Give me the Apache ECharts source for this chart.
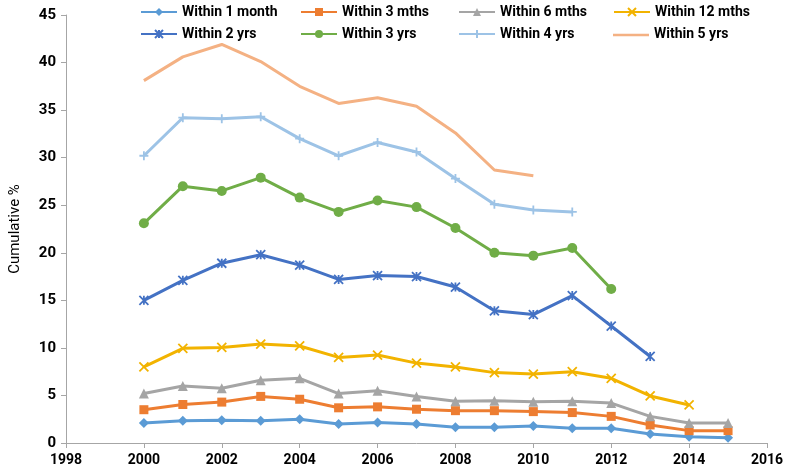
<!DOCTYPE html>
<html>
<head>
<meta charset="utf-8">
<script src="https://cdn.jsdelivr.net/npm/echarts@6/dist/echarts.min.js"></script>
<style>
  html, body { margin: 0; padding: 0; background: #fff; }
  #chart { width: 787px; height: 473px; }
</style>
</head>
<body>
<div id="chart"></div>
<script>
const years = [2000, 2001, 2002, 2003, 2004, 2005, 2006, 2007, 2008, 2009, 2010, 2011, 2012, 2013, 2014, 2015];
const xTicks = [1998, 2000, 2002, 2004, 2006, 2008, 2010, 2012, 2014, 2016];
const yTicks = [0, 5, 10, 15, 20, 25, 30, 35, 40, 45];

const within1Month = [2.1, 2.35, 2.4, 2.35, 2.5, 2.0, 2.15, 2.0, 1.65, 1.65, 1.8, 1.55, 1.55, 0.95, 0.65, 0.55];
const within3Mths = [3.5, 4.05, 4.3, 4.9, 4.6, 3.7, 3.8, 3.55, 3.4, 3.4, 3.3, 3.2, 2.8, 1.9, 1.3, 1.3];
const within6Mths = [5.2, 6.0, 5.75, 6.6, 6.8, 5.2, 5.5, 4.9, 4.4, 4.45, 4.35, 4.4, 4.2, 2.8, 2.1, 2.1];
const within12Mths = [8.0, 9.95, 10.05, 10.4, 10.2, 9.0, 9.25, 8.4, 8.0, 7.4, 7.25, 7.5, 6.8, 4.95, 4.0];
const within2Yrs = [15.0, 17.1, 18.9, 19.8, 18.7, 17.2, 17.6, 17.5, 16.4, 13.9, 13.5, 15.5, 12.3, 9.1];
const within3Yrs = [23.1, 27.0, 26.5, 27.9, 25.8, 24.3, 25.5, 24.8, 22.6, 20.0, 19.7, 20.5, 16.2];
const within4Yrs = [30.2, 34.2, 34.1, 34.3, 32.0, 30.2, 31.6, 30.6, 27.8, 25.1, 24.5, 24.3];
const within5Yrs = [38.1, 40.6, 41.9, 40.1, 37.5, 35.7, 36.3, 35.4, 32.6, 28.7, 28.1];

// open paths: drawn only by their stroke
const xMark = 'path://M0,0L10,10M10,0L0,10';
const starMark = 'path://M0,0L10,10M10,0L0,10M5,0L5,10';
const plusMark = 'path://M5,0L5,10M0,5L10,5';
const dashMark = 'path://M0,5L10,5';

const seriesDefs = [
  { name: 'Within 1 month', data: within1Month, color: '#5B9BD5', symbol: 'diamond', size: 10 },
  { name: 'Within 3 mths', data: within3Mths, color: '#ED7D31', symbol: 'rect', size: 9 },
  { name: 'Within 6 mths', data: within6Mths, color: '#A5A5A5', symbol: 'triangle', size: 10 },
  { name: 'Within 12 mths', data: within12Mths, color: '#F2B300', symbol: xMark, size: 9, stroke: true },
  { name: 'Within 2 yrs', data: within2Yrs, color: '#4472C4', symbol: starMark, size: 9, stroke: true },
  { name: 'Within 3 yrs', data: within3Yrs, color: '#70AD47', symbol: 'circle', size: 10 },
  { name: 'Within 4 yrs', data: within4Yrs, color: '#9DC3E6', symbol: plusMark, size: 9, stroke: true },
  { name: 'Within 5 yrs', data: within5Yrs, color: '#F4B183', symbol: dashMark, size: 6, stroke: true }
];

const legendLeft = [135, 295, 453, 608];
const legendTop = [0, 22];

const chart = echarts.init(document.getElementById('chart'));

// one small legend per entry so the 4x2 grid lines up like the original;
// the bottom-right entry kept getting shoved onto its neighbour, so it is drawn as a graphic
const legends = seriesDefs.slice(0, 7).map((s, i) => ({
  data: [s.name],
  left: legendLeft[i % 4],
  top: legendTop[Math.floor(i / 4)],
  itemWidth: 36,
  itemHeight: 10,
  textStyle: { fontFamily: 'Roboto', fontWeight: 'bold', fontSize: 14, color: '#000' }
}));
const lastKey = seriesDefs[7];

const option = {
  animation: false,
  textStyle: { fontFamily: 'Roboto' },
  grid: { left: 58, right: 20, top: 15, bottom: 30 },
  legend: legends,
  graphic: [
    {
      type: 'line',
      shape: { x1: 613, y1: 35, x2: 649, y2: 35 },
      style: { stroke: lastKey.color, lineWidth: 2.5 }
    },
    {
      type: 'text',
      left: 654,
      top: 27,
      style: {
        text: lastKey.name,
        fontFamily: 'Roboto', fontWeight: 'bold', fontSize: 14, fill: '#000'
      }
    }
  ],
  xAxis: {
    type: 'value',
    min: xTicks[0],
    max: xTicks[xTicks.length - 1],
    interval: 2,
    splitLine: { show: false },
    axisLine: { lineStyle: { color: '#A6A6A6' } },
    axisTick: { show: true, length: 5, lineStyle: { color: '#A6A6A6' } },
    axisLabel: { color: '#000', fontWeight: 'bold', fontSize: 14, margin: 10, formatter: v => String(v) }
  },
  yAxis: {
    type: 'value',
    min: yTicks[0],
    max: yTicks[yTicks.length - 1],
    interval: 5,
    name: 'Cumulative %',
    nameLocation: 'middle',
    nameGap: 43,
    nameTextStyle: { color: '#000', fontSize: 15, fontFamily: 'Roboto' },
    splitLine: { show: false },
    axisLine: { show: true, lineStyle: { color: '#A6A6A6' } },
    axisTick: { show: true, length: 5, lineStyle: { color: '#A6A6A6' } },
    axisLabel: { color: '#000', fontWeight: 'bold', fontSize: 15, margin: 10 }
  },
  series: seriesDefs.map(s => ({
    name: s.name,
    type: 'line',
    data: s.data.map((v, i) => [years[i], v]),
    symbol: s.symbol,
    symbolSize: s.size,
    lineStyle: { color: s.color, width: 3 },
    itemStyle: s.stroke
      ? { color: s.color, borderColor: s.color, borderWidth: 1.8 }
      : { color: s.color }
  }))
};

chart.setOption(option);
</script>
</body>
</html>
